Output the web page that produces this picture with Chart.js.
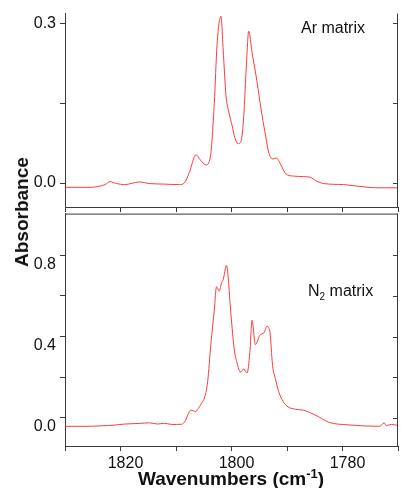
<!DOCTYPE html>
<html>
<head>
<meta charset="utf-8">
<script src="https://cdn.jsdelivr.net/npm/chart.js@4"></script>
<style>
  body { margin: 0; background: #fff; }
  #wrap { position: relative; width: 401px; height: 488px; font-family: 'Liberation Sans', Arial, sans-serif; color: #111; }
  canvas { position: absolute; left: 0; }
  #top { top: 0; }
  #bottom { top: 200px; }
  .lbl { position: absolute; font-size: 16px; line-height: 16px; white-space: nowrap; }
  .lbl sub { font-size: 10px; vertical-align: -4px; line-height: 0; }
  #ytitle { position: absolute; left: 22px; top: 212px; transform: translate(-50%, -50%) rotate(-90deg); font-weight: bold; font-size: 19px; white-space: nowrap; }
  #xtitle { position: absolute; left: 231px; top: 469px; transform: translateX(-50%); font-weight: bold; font-size: 19px; line-height: 19px; white-space: nowrap; }
  #xtitle sup { font-size: 13px; vertical-align: 7px; line-height: 0; }
</style>
</head>
<body>
<div id="wrap">
  <canvas id="top" width="401" height="226"></canvas>
  <canvas id="bottom" width="401" height="288"></canvas>
  <div class="lbl" style="left:301px; top:20px;">Ar matrix</div>
  <div class="lbl" style="left:308px; top:283px;">N<sub>2</sub> matrix</div>
  <div id="ytitle">Absorbance</div>
  <div id="xtitle">Wavenumbers (cm<sup>-1</sup>)</div>
</div>
<script>
// Ar matrix spectrum
const arWavenumber = [1830.0, 1825.5, 1822.8, 1821.9, 1820.7, 1819.3, 1816.6, 1814.8, 1812.1, 1809.4,
  1808.5, 1807.6, 1806.4, 1805.6, 1804.6, 1803.8, 1803.1, 1802.6, 1801.9, 1801.5, 1801.0, 1800.4,
  1799.9, 1799.4, 1798.8, 1798.3, 1797.8, 1797.3, 1796.9, 1796.3, 1795.4, 1794.7, 1794.0, 1793.3,
  1792.6, 1791.9, 1791.1, 1790.2, 1788.8, 1787.0, 1785.9, 1784.7, 1783.4, 1779.8, 1777.2, 1773.6, 1770.0]
const arAbsorbance = [-0.008, -0.008, -0.003, 0.0025, -0.001, -0.003, 0.002, -0.001, -0.002, -0.003,
  0.000, 0.020, 0.053, 0.043, 0.034, 0.050, 0.150, 0.260, 0.313, 0.250, 0.165, 0.130,
  0.108, 0.085, 0.074, 0.078, 0.125, 0.225, 0.285, 0.245, 0.190, 0.140, 0.097, 0.058,
  0.045, 0.047, 0.034, 0.017, 0.013, 0.012, 0.011, 0.004, -0.001, -0.003, -0.006, -0.009, -0.009]

// N2 matrix spectrum
const n2Wavenumber = [1830.0, 1826.4, 1823.7, 1821.0, 1819.3, 1817.8, 1816.6, 1814.8, 1813.3, 1812.1,
  1810.8, 1809.0, 1808.3, 1807.8, 1807.3, 1806.9, 1806.5, 1806.0, 1805.5, 1804.8, 1804.3, 1803.7,
  1803.1, 1802.7, 1802.2, 1801.8, 1801.5, 1800.9, 1800.6, 1800.1, 1799.5, 1799.0, 1798.4, 1797.8,
  1797.2, 1796.7, 1796.3, 1795.7, 1794.8, 1794.2, 1793.6, 1793.1, 1792.6, 1792.1, 1791.5, 1790.9,
  1790.0, 1788.5, 1787.0, 1785.5, 1784.3, 1782.5, 1779.0, 1773.3, 1772.5, 1772.1, 1771.2, 1770.0]
const n2Absorbance = [-0.042, -0.042, -0.040, -0.036, -0.031, -0.029, -0.028, -0.025, -0.031, -0.027,
  -0.033, -0.032, -0.014, 0.020, 0.038, 0.034, 0.030, 0.045, 0.067, 0.105, 0.177, 0.368,
  0.530, 0.645, 0.624, 0.664, 0.680, 0.750, 0.690, 0.510, 0.336, 0.270, 0.225, 0.240,
  0.220, 0.320, 0.480, 0.360, 0.410, 0.416, 0.450, 0.426, 0.258, 0.193, 0.129, 0.090,
  0.057, 0.042, 0.037, 0.021, 0.005, -0.022, -0.035, -0.042, -0.025, -0.038, -0.033, -0.038]

const xTicks = [1830, 1820, 1810, 1800, 1790, 1780, 1770]
const xLabels = [1820, 1800, 1780]
const yTopTicks = [0, 0.15, 0.3]
const yTopLabels = [0, 0.3]
const yBottomTicks = [0, 0.2, 0.4, 0.6, 0.8]
const yBottomLabels = [0, 0.4, 0.8]

const axisColor = '#3a3a3a'
const lineColor = '#ff3b3b'

Chart.defaults.font.family = "'Liberation Sans', Arial, sans-serif"
Chart.defaults.color = '#111'

// right side frame with inward ticks, plus optional top line
const frame = {
  id: 'frame',
  afterDraw(chart, args, opts) {
    const { ctx, chartArea: a, scales } = chart
    const y = scales.y
    ctx.save()
    ctx.strokeStyle = axisColor
    ctx.lineWidth = 1
    ctx.beginPath()
    ctx.moveTo(a.right - 0.5, a.top)
    ctx.lineTo(a.right - 0.5, a.bottom)
    y.ticks.forEach(t => {
      const py = Math.round(y.getPixelForValue(t.value)) + 0.5
      ctx.moveTo(a.right, py)
      ctx.lineTo(a.right - 5, py)
    })
    if (opts.top) {
      ctx.moveTo(a.left, a.top + 0.5)
      ctx.lineTo(a.right, a.top + 0.5)
    }
    ctx.stroke()
    ctx.restore()
  }
}

function points(xs, ys) {
  return xs.map((x, i) => ({ x: x, y: ys[i] }))
}

function makeChart(id, data, yMin, yMax, yTicks, yLabels, showX, xHeight, padTop, drawTop, yLabelOffset) {
  return new Chart(document.getElementById(id), {
    type: 'line',
    data: {
      datasets: [{
        data: data,
        borderColor: lineColor,
        borderWidth: 1,
        pointRadius: 0,
        cubicInterpolationMode: 'monotone',
        fill: false
      }]
    },
    options: {
      responsive: false,
      animation: false,
      layout: { padding: { top: padTop, right: 1, left: 0, bottom: 0 } },
      plugins: {
        legend: { display: false },
        tooltip: { enabled: false },
        frame: { top: drawTop }
      },
      scales: {
        x: {
          type: 'linear',
          reverse: true,
          min: 1770,
          max: 1830,
          afterBuildTicks: s => { s.ticks = xTicks.map(v => ({ value: v })) },
          afterFit: s => { s.height = xHeight },
          grid: { drawOnChartArea: false, tickLength: 5, color: axisColor },
          border: { display: true, color: axisColor },
          ticks: {
            autoSkip: false,
            maxRotation: 0,
            padding: 3,
            labelOffset: 5,
            font: { size: 16 },
            color: '#111',
            callback: v => (showX && xLabels.includes(v)) ? String(v) : ''
          }
        },
        y: {
          min: yMin,
          max: yMax,
          afterBuildTicks: s => { s.ticks = yTicks.map(v => ({ value: v })) },
          afterFit: s => { s.width = 65 },
          grid: { drawOnChartArea: false, tickLength: 5, color: axisColor },
          border: { display: true, color: axisColor },
          ticks: {
            autoSkip: false,
            padding: 4,
            labelOffset: yLabelOffset,
            font: { size: 16 },
            color: '#111',
            callback: v => yLabels.some(l => Math.abs(l - v) < 1e-9) ? v.toFixed(1) : ''
          }
        }
      }
    },
    plugins: [frame]
  })
}

makeChart('top', points(arWavenumber, arAbsorbance), -0.045, 0.318, yTopTicks, yTopLabels, false, 19, 13, false, 0)
makeChart('bottom', points(n2Wavenumber, n2Absorbance), -0.139, 1.005, yBottomTicks, yBottomLabels, true, 42, 7, true, 9)
</script>
</body>
</html>
